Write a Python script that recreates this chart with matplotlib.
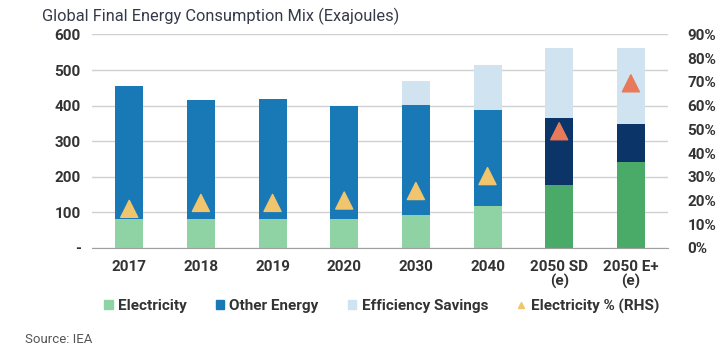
import matplotlib.pyplot as plt
from matplotlib.lines import Line2D
from matplotlib.patches import Patch
import numpy as np

plt.rcParams['font.family'] = ['Roboto', 'DejaVu Sans']

# Values (exajoules, and % for the RHS markers)
years = ["2017", "2018", "2019", "2020", "2030", "2040", "2050 SD\n(e)", "2050 E+\n(e)"]
electricity = [81, 81, 82, 81, 94, 118, 176, 242]
other_energy = [373, 334, 336, 317, 309, 271, 188, 105]
efficiency_savings = [0, 0, 0, 0, 67, 124, 197, 214]
electricity_pct = [16.5, 19, 19, 20, 24, 30.3, 49.2, 69.4]

elec_colors = ["#8fd3a4"] * 6 + ["#4aab68"] * 2
other_colors = ["#1879b6"] * 6 + ["#0b3469"] * 2
tri_colors = ["#f1c56d"] * 6 + ["#e8795a"] * 2

fig = plt.figure(figsize=(7.27, 3.53), dpi=100)
ax = fig.add_axes([0.1265, 0.2975, 0.7925, 0.605])
x = np.arange(len(years))
w = 0.39

ax.bar(x, electricity, w, color=elec_colors, zorder=2)
ax.bar(x, other_energy, w, bottom=electricity, color=other_colors, zorder=2)
base = np.array(electricity) + np.array(other_energy)
ax.bar(x, efficiency_savings, w, bottom=base, color="#cfe3f0", zorder=2)

ax.set_xlim(-0.52, 7.52)
ax.set_ylim(0, 600)
ax.set_yticks(range(0, 601, 100))
ax.set_yticklabels(["-"] + [str(v) for v in range(100, 601, 100)])
ax.set_xticks(x)
ax.set_xticklabels(years, linespacing=0.95)
ax.grid(axis="y", color="#d0d0d0", linewidth=1, zorder=0)
for s in ["top", "right", "left"]:
    ax.spines[s].set_visible(False)
ax.spines["bottom"].set_color("#a0a0a0")
ax.tick_params(length=0, labelsize=11, labelcolor="#333333", pad=8)
ax.tick_params(axis="x", pad=9)
for lab in ax.get_xticklabels() + ax.get_yticklabels():
    lab.set_fontweight("bold")

ax2 = ax.twinx()
ax2.set_ylim(0, 90)
ax2.set_yticks(range(0, 91, 10))
ax2.set_yticklabels([f"{v}%" for v in range(0, 91, 10)])
for s in ["top", "right", "left", "bottom"]:
    ax2.spines[s].set_visible(False)
ax2.tick_params(length=0, labelsize=11, labelcolor="#333333", pad=14)
for lab in ax2.get_yticklabels():
    lab.set_fontweight("bold")
ax2.scatter(x, electricity_pct, marker="^", s=150, c=tri_colors, zorder=3)

fig.text(0.058, 0.978, "Global Final Energy Consumption Mix (Exajoules)",
         fontsize=11.8, color="#363a48", va="top")
fig.text(0.034, 0.028, "Source: IEA", fontsize=9.5, color="#555555")

handles = [
    Patch(color="#8fd3a4"),
    Patch(color="#1879b6"),
    Patch(color="#cfe3f0"),
    Line2D([], [], marker="^", color="#f1c56d", linestyle="none", markersize=5),
]
labels = ["Electricity", "Other Energy", "Efficiency Savings", "Electricity % (RHS)"]
fig.legend(handles, labels, loc="center", bbox_to_anchor=(0.525, 0.133), ncol=4,
           frameon=False, handlelength=0.55, handleheight=0.55, handletextpad=0.35,
           columnspacing=1.9, prop={"size": 11, "weight": "bold"},
           labelcolor="#333333")

fig.savefig("out.png", dpi=100)
